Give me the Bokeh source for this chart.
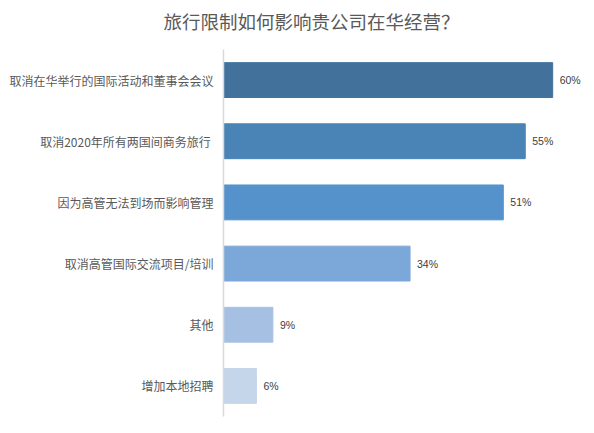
from bokeh.plotting import figure
from bokeh.models import ColumnDataSource, Range1d, FactorRange, Title
from bokeh.core.properties import value
from bokeh.embed import file_html
from bokeh.resources import INLINE

title_text = "旅行限制如何影响贵公司在华经营？"
categories = [
    "取消在华举行的国际活动和董事会会议",
    "取消2020年所有两国间商务旅行 ",
    "因为高管无法到场而影响管理",
    "取消高管国际交流项目/培训",
    "其他",
    "增加本地招聘",
]
values = [60, 55, 51, 34, 9, 6]
colors = ["#42719C", "#4A83B5", "#5592CC", "#7BA8D8", "#A6C0E3", "#C5D5EA"]
labels = [f"{v}%" for v in values]

src = ColumnDataSource(dict(cat=categories, val=values, color=colors, lab=labels))

p = figure(
    width=586, height=425,
    y_range=FactorRange(factors=categories[::-1]),
    x_range=Range1d(0, 65.8),
    output_backend="svg", toolbar_location=None,
    min_border_left=223, min_border_right=2,
    min_border_top=0, min_border_bottom=9,
)
# main title (outermost)
p.title.text = title_text
p.title.align = "left"
p.title.offset = -60
p.title.vertical_align = "top"
p.title.standoff = 14
p.title.text_font = "Noto Sans CJK SC"
p.title.text_font_size = "18.5px"
p.title.text_font_style = "normal"
p.title.text_color = "#595959"

# spacer between the title and the plot area
spacer = Title(text=" ", text_font_size="1px", standoff=4)
p.add_layout(spacer, "above")

p.hbar(y="cat", right="val", left=0, height=0.57, color="color", source=src)
p.text(x="val", y="cat", text="lab", source=src, x_offset=7,
       text_baseline="middle", text_align="left",
       text_font=value("Liberation Sans"), text_font_size="10.5px", text_color="#404040")

p.xaxis.visible = False
p.xgrid.visible = False
p.ygrid.visible = False
p.outline_line_color = None
p.yaxis.axis_line_color = "#D9D9D9"
p.yaxis.axis_line_width = 1.5
p.yaxis.major_tick_line_color = None
p.yaxis.minor_tick_line_color = None
p.yaxis.major_label_standoff = 4
p.yaxis.major_label_text_font = "Noto Sans CJK SC"
p.yaxis.major_label_text_font_size = "12px"
p.yaxis.major_label_text_color = "#595959"

open("out.html", "w").write(file_html(p, INLINE))
